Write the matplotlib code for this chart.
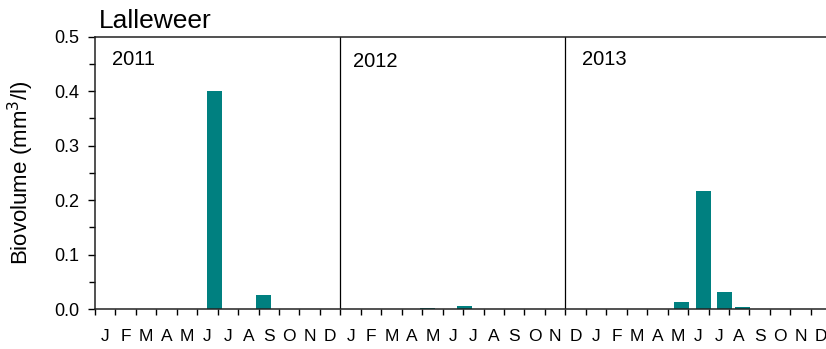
import matplotlib
matplotlib.use("Agg")
import matplotlib.pyplot as plt
from matplotlib.ticker import MultipleLocator, FixedLocator, NullFormatter

plt.rcParams['font.family'] = ['Liberation Sans', 'DejaVu Sans']

# sampling positions in months since 1 Jan 2011, with biovolume in mm3/l
sample_pos = [5.85, 8.22, 16.24, 18.09, 28.68, 29.77, 30.77, 31.65]
biovolume = [0.401, 0.025, 0.0015, 0.006, 0.0134, 0.2175, 0.032, 0.003]

month_letters = list("JFMAMJJASOND") * 3
years = ["2011", "2012", "2013"]
year_label_x = [0.83, 12.6, 23.8]
year_label_y = [0.459, 0.455, 0.459]
dividers = [12, 23]

fig = plt.figure(figsize=(8.26, 3.49), dpi=100)
ax = fig.add_axes([0.1150, 0.1146, 0.8913, 0.7802])

ax.bar(sample_pos, biovolume, width=0.73, color='#008080', edgecolor='none')

for d in dividers:
    ax.axvline(d, color='black', lw=0.9)

for name, xx, yy in zip(years, year_label_x, year_label_y):
    ax.text(xx, yy, name, fontsize=14.5, ha='left', va='center')

ax.set_xlim(0, 36)
ax.set_ylim(0, 0.5)

# month boundaries get ticks, month centres get the letters
ax.xaxis.set_major_locator(FixedLocator(range(0, 37)))
ax.xaxis.set_major_formatter(NullFormatter())
ax.xaxis.set_minor_locator(FixedLocator([m + 0.5 for m in range(36)]))
ax.set_xticklabels(month_letters, minor=True)
ax.tick_params(axis='x', which='major', direction='out', length=4.5, width=1.0)
ax.tick_params(axis='x', which='minor', length=0, pad=14.5, labelsize=12.5)

ax.yaxis.set_major_locator(MultipleLocator(0.1))
ax.yaxis.set_minor_locator(MultipleLocator(0.05))
ax.set_yticks(ax.get_yticks())
ax.set_yticklabels(["%.1f" % v for v in ax.get_yticks()])
ax.set_ylim(0, 0.5)
ax.tick_params(axis='y', which='major', direction='out', length=5, width=1.0,
               pad=6, labelsize=13)
ax.tick_params(axis='y', which='minor', direction='out', length=4, width=1.0)

ax.spines['right'].set_visible(False)
for s in ['left', 'bottom', 'top']:
    ax.spines[s].set_linewidth(1.1)
    ax.spines[s].set_color('#222222')

ax.set_ylabel("Biovolume (mm$^3$/l)", fontsize=16)
ax.yaxis.set_label_coords(-0.0805, 0.5)
fig.text(0.120, 0.919, "Lalleweer", fontsize=19, ha='left', va='baseline')

fig.savefig("out.png", dpi=100)
